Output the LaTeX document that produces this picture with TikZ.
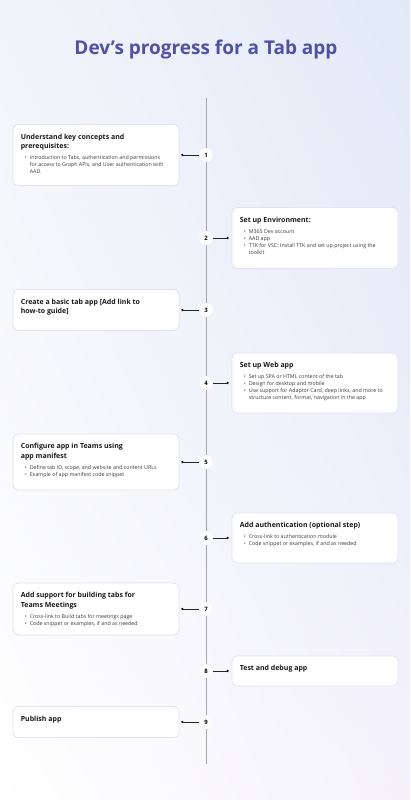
\documentclass[tikz,border=0pt]{standalone}
\usepackage{fontspec}
\setmainfont{Open Sans}
\usetikzlibrary{calc}
\usetikzlibrary{positioning}
\usetikzlibrary{shadings}
\definecolor{titleblue}{RGB}{79,82,163}
\definecolor{cardline}{RGB}{227,225,243}
\definecolor{axisgray}{RGB}{165,165,170}
\definecolor{bgblue}{RGB}{225,233,247}
\definecolor{bglav}{RGB}{245,242,252}
\definecolor{bgtop}{RGB}{243,244,250}
\definecolor{inkgray}{RGB}{60,60,60}

\tikzset{
  card/.style={draw=cardline, line width=0.8pt, fill=white, rounded corners=5pt,
    minimum width=166pt, inner sep=0pt},
  numdot/.style={circle, fill=white, draw=black!6, minimum size=14pt, inner sep=0pt,
    font=\bfseries\fontsize{6}{6}\selectfont},
  head/.style={inner sep=0pt, align=left, text=black!90,
    font=\bfseries\fontsize{7}{9.5}\selectfont},
  items/.style={inner sep=0pt, text=inkgray, font=\fontsize{5.3}{7}\selectfont},
  link/.style={line width=0.6pt, black!85}
}

% #1 step, #2 y, #3 height, #4 x of card, #5 side, #6 dot offset, #7 heading
\newcommand{\stage}[7]{
  \node[card, minimum height=#3pt] (box#1) at (#4, #2) {};
  \node[numdot] (n#1) at (206, #2) {#1};
  \coordinate (d#1) at ($(box#1.#5)+(#6,0)$);
  \fill (d#1) circle (1.3pt);
  \draw[link] (d#1) -- (n#1);
  \node[head, below right=9.5pt and 8pt of box#1.north west] (hd#1) {#7};
}
\newcommand{\points}[2]{
  \node[items, below right=4pt and 4pt of hd#1.south west] (it#1)
    {\begin{tabular}{@{}l@{\hspace{3pt}}l@{}}#2\end{tabular}};
}

\begin{document}
\begin{tikzpicture}[x=1pt, y=-1pt]
  \useasboundingbox (0,0) rectangle (410,800);
  \shade[upper left=bgtop, upper right=bgblue, lower left=white, lower right=bglav]
    (0,0) rectangle (410,800);

  \node[text=titleblue, font=\bfseries\fontsize{19}{22}\selectfont] (title) at (206,50)
    {Dev’s progress for a Tab app};

  \coordinate (top) at (206,98);
  \coordinate (bot) at (206,764);
  \draw[axisgray, line width=0.9pt] (top) -- (bot);

  \stage{1}{155}{61}{96}{east}{3}{Understand key concepts and\\prerequisites:}
  \points{1}{\textbullet & Introduction to Tabs, authentication and permissions\\
    & for access to Graph APIs, and User authentication with\\ & AAD.}

  \stage{2}{238}{61}{315}{west}{-4}{Set up Environment:}
  \points{2}{\textbullet & M365 Dev account\\ \textbullet & AAD app\\
    \textbullet & TTK for VSC: Install TTK and set up project using the\\ & toolkit}

  \stage{3}{310}{41}{96}{east}{3}{Create a basic tab app [Add link to\\how-to guide]}

  \stage{4}{383}{60}{315}{west}{-4}{Set up Web app}
  \points{4}{\textbullet & Set up SPA or HTML content of the tab\\
    \textbullet & Design for desktop and mobile\\
    \textbullet & Use support for Adaptor Card, deep links, and more to\\
    & structure content, format, navigation in the app}

  \stage{5}{462}{56}{96}{east}{3}{Configure app in Teams using\\app manifest}
  \points{5}{\textbullet & Define tab ID, scope, and website and content URLs\\
    \textbullet & Example of app manifest code snippet}

  \stage{6}{538}{50}{315}{west}{-4}{Add authentication (optional step)}
  \points{6}{\textbullet & Cross-link to authentication module\\
    \textbullet & Code snippet or examples, if and as needed}

  \stage{7}{609}{52}{96}{east}{3}{Add support for building tabs for\\Teams Meetings}
  \points{7}{\textbullet & Cross-link to Build tabs for meetings page\\
    \textbullet & Code snippet or examples, if and as needed}

  \stage{8}{671}{30}{315}{west}{-4}{Test and debug app}

  \stage{9}{722}{31}{96}{east}{3}{Publish app}
\end{tikzpicture}
\end{document}
